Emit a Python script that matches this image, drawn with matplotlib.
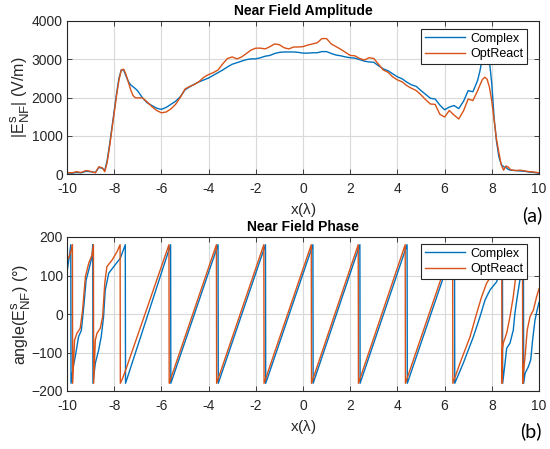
import numpy as np
import matplotlib
matplotlib.use("Agg")
import matplotlib.pyplot as plt
try:
    import matplotlib._mathtext as _mt
    _mt.SHRINK_FACTOR = 0.82
except Exception:
    pass

# ---------------- data ----------------
amp_x = [-10, -9.8, -9.6, -9.4, -9.2, -9.0, -8.8, -8.65, -8.5, -8.4, -8.3, -8.2, -8.1, -8.0,
         -7.9, -7.8, -7.7, -7.6, -7.5, -7.4, -7.3, -7.2, -7.1, -7.0, -6.8, -6.6, -6.4, -6.2,
         -6.0, -5.8, -5.6, -5.4, -5.2, -5.0, -4.8, -4.6, -4.4, -4.2, -4.0, -3.8, -3.6, -3.4,
         -3.2, -3.0, -2.8, -2.6, -2.4, -2.2, -2.0, -1.8, -1.6, -1.4, -1.2, -1.0, -0.8, -0.6,
         -0.4, -0.2, 0, 0.2, 0.4, 0.6, 0.8, 1.0, 1.2, 1.4, 1.6, 1.8, 2.0, 2.2, 2.4, 2.6, 2.8,
         3.0, 3.2, 3.4, 3.6, 3.8, 4.0, 4.2, 4.4, 4.6, 4.8, 5.0, 5.2, 5.4, 5.6, 5.8, 6.0, 6.2,
         6.4, 6.6, 6.8, 7.0, 7.2, 7.4, 7.5, 7.6, 7.7, 7.8, 7.9, 8.0, 8.1, 8.2, 8.3, 8.4, 8.5,
         8.6, 8.7, 8.8, 9.0, 9.2, 9.4, 9.6, 9.8, 10]

amp_complex = [30, 20, 40, 30, 70, 60, 40, 170, 150, 90, 350, 750, 1200, 1650,
               2100, 2500, 2720, 2720, 2560, 2420, 2330, 2280, 2230, 2170, 1990, 1860, 1790, 1720,
               1690, 1740, 1820, 1900, 2020, 2200, 2280, 2350, 2410, 2460, 2510, 2580, 2650, 2720,
               2800, 2870, 2910, 2950, 2990, 3010, 3010, 3040, 3080, 3100, 3150, 3180, 3190, 3190,
               3190, 3180, 3160, 3160, 3170, 3170, 3200, 3200, 3150, 3110, 3090, 3060, 3040, 3030,
               2990, 2950, 2930, 2920, 2830, 2750, 2700, 2620, 2540, 2490, 2400, 2330, 2290, 2180,
               2080, 1980, 1960, 1800, 1680, 1750, 1790, 1710, 1900, 2180, 2150, 2450, 2700, 3050,
               3300, 3200, 2950, 2350, 1450, 850, 450, 250, 190, 170, 120, 100, 90, 80, 70, 50, 40, 20]

amp_optreact = [40, 30, 60, 40, 90, 70, 30, 190, 160, 60, 300, 700, 1150, 1600,
                2050, 2450, 2720, 2740, 2600, 2400, 2200, 2050, 1990, 1990, 1990, 1880, 1760, 1660,
                1600, 1620, 1700, 1820, 2000, 2220, 2290, 2340, 2420, 2530, 2600, 2650, 2720, 2880,
                3020, 3060, 3010, 3060, 3150, 3240, 3290, 3290, 3270, 3330, 3400, 3380, 3300, 3270,
                3320, 3320, 3330, 3370, 3400, 3430, 3540, 3540, 3400, 3330, 3260, 3180, 3100, 3090,
                3020, 2980, 3040, 3020, 2870, 2720, 2660, 2540, 2460, 2410, 2310, 2240, 2180, 2070,
                1940, 1830, 1820, 1560, 1490, 1660, 1540, 1440, 1650, 1960, 1920, 2180, 2330, 2470,
                2530, 2480, 2270, 1900, 1400, 900, 560, 240, 100, 210, 180, 110, 90, 100, 80, 60, 50, 30]

ph_complex_x = [-10, -9.9, -9.84, -9.83, -9.72, -9.65, -9.51, -9.39, -9.29, -9.19, -9.08, -8.94, -8.91,
                -8.90, -8.8, -8.66, -8.55, -8.45, -8.38, -8.23, -8.02, -7.74, -7.53,
                -7.52, -5.61, -5.60, -3.60, -3.59, -1.59, -1.58, 0.42, 0.43, 2.41, 2.42,
                4.41, 4.42, 6.42, 6.43, 6.79, 7.22, 7.5, 7.71, 7.92, 8.21, 8.35, 8.45,
                8.46, 8.56, 8.63, 8.77, 8.91, 8.98, 9.08, 9.19, 9.28, 9.34,
                9.35, 9.41, 9.55, 9.65, 9.73, 9.83, 9.92, 10]
ph_complex = [110, 150, 180, -180, -132, -111, -59, -42, 19, 88, 114, 149, 180,
              -180, -128, -94, -59, -7, 62, 106, 123, 145, 180,
              -180, 180, -180, 180, -180, 180, -180, 180, -180, 180, -180,
              180, -180, 180, -180, -128, -59, -7, 36, 62, 84, 120, 180,
              -180, -128, -89, -76, -42, 2, 45, 88, 140, 180,
              -180, -154, -137, -119, -67, -16, 10, 30]

ph_optreact_x = [-10, -9.9, -9.79, -9.77, -9.76, -9.68, -9.58, -9.44, -9.34, -9.22, -9.08, -8.94, -8.88,
                 -8.87, -8.8, -8.73, -8.59, -8.49, -8.40, -8.31, -8.09, -7.88, -7.75,
                 -7.74, -7.65, -7.5, -5.68, -5.67, -3.67, -3.66, -1.66, -1.65, 0.35, 0.36,
                 2.34, 2.35, 4.33, 4.34, 6.34, 6.35, 6.65, 7.08, 7.36, 7.57, 7.78, 7.99, 8.2, 8.42,
                 8.43, 8.45, 8.49, 8.63, 8.77, 8.91, 9.0, 9.15, 9.30,
                 9.31, 9.36, 9.41, 9.5, 9.62, 9.76, 9.9, 10]
ph_optreact = [139, 150, 172, 180, -180, -68, -50, -37, 10, 97, 132, 153, 180,
               -180, -68, -50, -37, -7, 80, 123, 140, 162, 180,
               -180, -168, -143, 180, -180, 180, -180, 180, -180, 180, -180,
               180, -180, 180, -180, 180, -180, -128, -59, 2, 45, 80, 100, 130, 180,
               -180, -90, -75, -50, -7, 45, 90, 140, 180,
               -180, -140, -110, -42, -7, 10, 45, 66]

xticks = [-10, -8, -6, -4, -2, 0, 2, 4, 6, 8, 10]
amp_yticks = [0, 1000, 2000, 3000, 4000]
ph_yticks = [-200, -100, 0, 100, 200]
series_names = ["Complex", "OptReact"]

# ---------------- style ----------------
plt.rcParams['font.family'] = ['Liberation Sans', 'DejaVu Sans']
plt.rcParams['mathtext.fontset'] = 'custom'
plt.rcParams['mathtext.rm'] = 'Liberation Sans'
plt.rcParams['mathtext.it'] = 'Liberation Sans'
BLUE = '#0072BD'
RED = '#D95319'
AXC = '0.15'

fig = plt.figure(figsize=(5.5, 4.49), dpi=100)
W, H = 550, 449

def make_axes(x0, y0, x1, y1):
    return fig.add_axes([x0 / W, 1 - y1 / H, (x1 - x0) / W, (y1 - y0) / H])

ax1 = make_axes(67, 21, 539, 174)
ax2 = make_axes(67, 237, 539, 391)

def style(ax):
    ax.set_xlim(-10, 10)
    ax.set_xticks(xticks)
    ax.set_xticklabels([str(t) for t in xticks])
    ax.grid(True, color='0.85', linewidth=0.8)
    ax.set_axisbelow(True)
    for s in ax.spines.values():
        s.set_color(AXC)
        s.set_linewidth(0.8)
    ax.tick_params(direction='in', top=True, right=True, length=3.5, width=0.6,
                   colors=AXC, labelsize=10)
    ax.tick_params(axis='x', pad=5.5)
    ax.tick_params(axis='y', pad=3)
    for lab in ax.get_xticklabels() + ax.get_yticklabels():
        lab.set_color('0.15')

ax1.plot(amp_x, amp_complex, color=BLUE, lw=1.0, label=series_names[0])
ax1.plot(amp_x, amp_optreact, color=RED, lw=1.0, label=series_names[1])
style(ax1)
ax1.set_ylim(0, 4000)
ax1.set_yticks(amp_yticks)
ax1.set_title('Near Field Amplitude', fontsize=10, fontweight='bold', pad=4, color='black')
ax1.set_xlabel(r'x($\lambda$)', fontsize=11, labelpad=4, color='0.15')
ax1.set_ylabel(r'|E$^{\rm s}_{\rm NF}$| (V/m)', fontsize=11.5, labelpad=0, color='0.15')

ax2.plot(ph_complex_x, ph_complex, color=BLUE, lw=1.0, label=series_names[0])
ax2.plot(ph_optreact_x, ph_optreact, color=RED, lw=1.0, label=series_names[1])
style(ax2)
ax2.set_ylim(-200, 200)
ax2.set_yticks(ph_yticks)
ax2.set_title('Near Field Phase', fontsize=10, fontweight='bold', pad=4, color='black')
ax2.set_xlabel(r'x($\lambda$)', fontsize=11, labelpad=4, color='0.15')
ax2.set_ylabel(r'angle(E$^{\rm s}_{\rm NF}$) ($\degree$)', fontsize=11.5, labelpad=-1, color='0.15')

for ax, ytop in ((ax1, 29), (ax2, 244)):
    leg = ax.legend(loc='upper right', bbox_to_anchor=(527 / W, 1 - ytop / H),
                    bbox_transform=fig.transFigure, borderaxespad=0, fontsize=9,
                    fancybox=False, framealpha=1, edgecolor=AXC, handlelength=3.2,
                    handletextpad=0.4, borderpad=0.3, labelspacing=0.25)
    leg.get_frame().set_linewidth(0.8)

fig.text(542 / W, 1 - 215 / H, '(a)', fontsize=14, family='Lato', ha='right', va='center')
fig.text(542 / W, 1 - 431 / H, '(b)', fontsize=14, family='Lato', ha='right', va='center')

fig.savefig('out.png', dpi=100)
